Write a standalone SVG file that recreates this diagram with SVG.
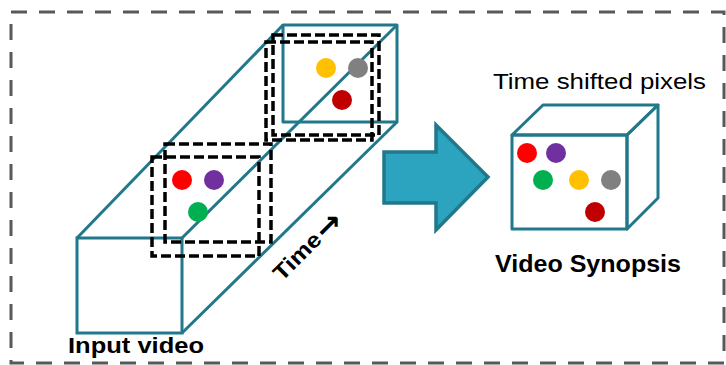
<svg xmlns="http://www.w3.org/2000/svg" width="726" height="365" viewBox="0 0 726 365">
  <style>
    .frame { fill: none; stroke: #595959; stroke-width: 3; stroke-dasharray: 16 12; }
    .edge { fill: none; stroke: #21788A; stroke-width: 3; stroke-linejoin: round; }
    .face { fill: #ffffff; stroke: #21788A; stroke-width: 3; }
    .window { fill: none; stroke: #000000; stroke-width: 3.5; stroke-dasharray: 10 4; }
    .label { font-family: "Liberation Sans", Arial, sans-serif; fill: #000000; }
    .bold { font-weight: bold; }
    .red { fill: #FF0000; }
    .purple { fill: #7030A0; }
    .green { fill: #00B050; }
    .yellow { fill: #FFC000; }
    .gray { fill: #808080; }
    .darkred { fill: #C00000; }
  </style>

  <!-- dashed outer frame -->
  <rect class="frame" x="11" y="12" width="713" height="351"/>

  <!-- input video: space-time volume -->
  <g id="input-video">
    <rect class="face" x="77" y="238" width="105" height="95"/>
    <rect class="edge" x="283" y="25" width="114" height="97"/>
    <line class="edge" x1="77" y1="238" x2="283" y2="25"/>
    <line class="edge" x1="182" y1="238" x2="397" y2="25"/>
    <line class="edge" x1="182" y1="333" x2="397" y2="122"/>
    <text class="label bold" x="68" y="353" font-size="22" textLength="136" lengthAdjust="spacingAndGlyphs">Input video</text>
  </g>

  <!-- early activity window -->
  <g id="window-early">
    <rect class="window" x="165" y="144" width="106" height="98"/>
    <rect class="window" x="152" y="157" width="107" height="99"/>
    <circle class="red" cx="182" cy="180" r="10"/>
    <circle class="purple" cx="214" cy="180" r="10"/>
    <circle class="green" cx="198" cy="212" r="10"/>
  </g>

  <!-- late activity window -->
  <g id="window-late">
    <rect class="window" x="273" y="35" width="106" height="100"/>
    <rect class="window" x="266" y="42" width="106" height="98"/>
    <circle class="yellow" cx="326" cy="68" r="10"/>
    <circle class="gray" cx="358" cy="68" r="10"/>
    <circle class="darkred" cx="342" cy="100" r="10"/>
  </g>

  <!-- time axis label, running along the volume -->
  <g id="time-axis" transform="translate(282,282) rotate(-45)">
    <text class="label bold" x="0" y="0" font-size="22" textLength="58" lengthAdjust="spacingAndGlyphs">Time</text>
    <text x="60" y="3" font-family="'DejaVu Sans', sans-serif" font-weight="bold" font-size="31" fill="#000000">→</text>
  </g>

  <!-- transformation arrow -->
  <g id="connectors">
    <polygon points="384,152 436,152 436,125 488,177 436,230 436,203 384,203" fill="#2CA3BF" stroke="#21788A" stroke-width="3.5" stroke-linejoin="miter"/>
  </g>

  <!-- synopsis volume -->
  <g id="video-synopsis">
    <text class="label" x="493" y="89" font-size="22" textLength="213" lengthAdjust="spacingAndGlyphs">Time shifted pixels</text>
    <polygon class="edge" points="512,135 543,105 658,105 627,135"/>
    <polygon class="edge" points="627,135 658,105 658,198 627,229"/>
    <rect class="edge" x="512" y="135" width="115" height="94"/>
    <circle class="red" cx="527" cy="153" r="10"/>
    <circle class="purple" cx="556" cy="153" r="10"/>
    <circle class="green" cx="543" cy="180" r="10"/>
    <circle class="yellow" cx="579" cy="180" r="10"/>
    <circle class="gray" cx="611" cy="180" r="10"/>
    <circle class="darkred" cx="595" cy="212" r="10"/>
    <text class="label bold" x="495" y="272" font-size="23" textLength="186" lengthAdjust="spacingAndGlyphs">Video Synopsis</text>
  </g>
</svg>
